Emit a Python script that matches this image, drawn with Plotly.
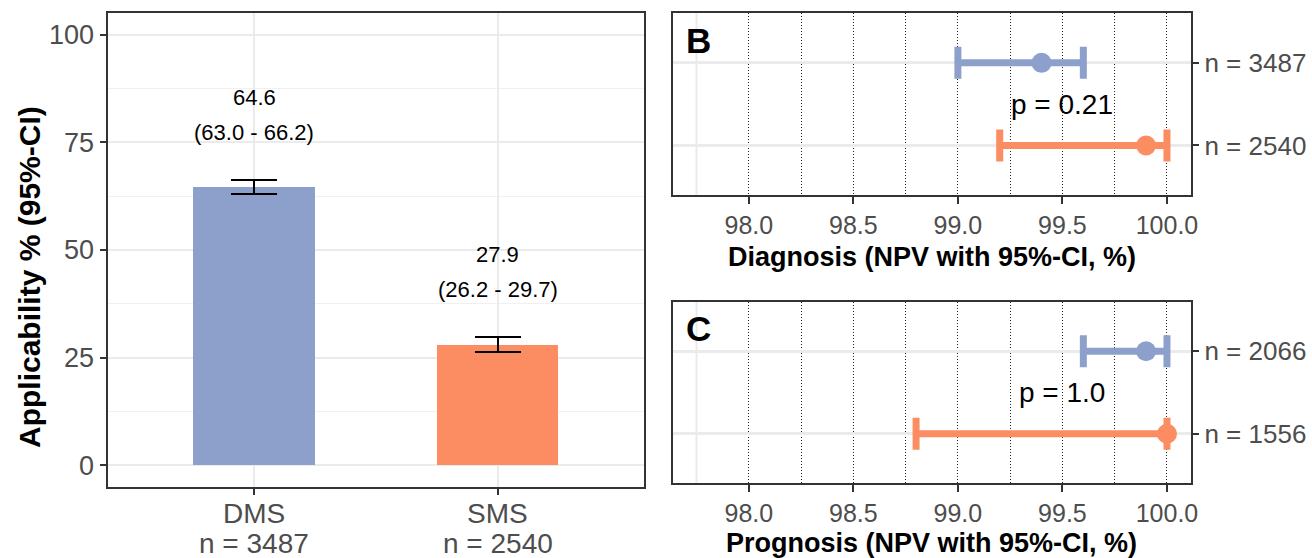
import plotly.graph_objects as go

# ---------------- data ----------------
groups = ["DMS", "SMS"]
group_n = [3487, 2540]
applic = [64.6, 27.9]
applic_lo = [63.0, 26.2]
applic_hi = [66.2, 29.7]

diag_labels = ["n = 3487", "n = 2540"]
diag_npv = [99.4, 99.9]
diag_lo = [99.0, 99.2]
diag_hi = [99.6, 100.0]
diag_p = "p = 0.21"

prog_labels = ["n = 2066", "n = 1556"]
prog_npv = [99.9, 100.0]
prog_lo = [99.6, 98.8]
prog_hi = [100.0, 100.0]
prog_p = "p = 1.0"

npv_ticks = [98.0, 98.5, 99.0, 99.5, 100.0]
npv_minor = [98.25, 98.75, 99.25, 99.75]

colors = ["#8DA0CB", "#FC8D62"]
FONT = "Liberation Sans, Arial, sans-serif"
W, H = 1312, 558


def px_x(p):
    return p / W


def px_y(p):
    return 1 - p / H


def label(**kw):
    kw.setdefault("showarrow", False)
    kw.setdefault("xanchor", "center")
    kw.setdefault("yanchor", "middle")
    fig.add_annotation(**kw)


fig = go.Figure()

# ---------------- Panel A: bars ----------------
xpos = list(range(len(groups)))
fig.add_trace(go.Bar(
    x=xpos, y=applic, width=0.5, marker=dict(color=colors, line=dict(width=0)),
    error_y=dict(type="data", symmetric=False,
                 array=[h - v for h, v in zip(applic_hi, applic)],
                 arrayminus=[v - l for v, l in zip(applic, applic_lo)],
                 color="black", thickness=2, width=23),
    xaxis="x", yaxis="y", showlegend=False, hoverinfo="skip"))

for i in xpos:
    label(x=i, y=applic_hi[i], xref="x", yref="y", yshift=83,
          text=f"{applic[i]:.1f}", font=dict(family=FONT, size=22, color="black"))
    label(x=i, y=applic_hi[i], xref="x", yref="y", yshift=48,
          text=f"({applic_lo[i]:.1f} - {applic_hi[i]:.1f})",
          font=dict(family=FONT, size=22, color="black"))
    # two-line category label
    label(x=i, y=px_y(513), xref="x", yref="paper", text=groups[i],
          font=dict(family=FONT, size=28, color="#4D4D4D"))
    label(x=i, y=px_y(543), xref="x", yref="paper", text=f"n = {group_n[i]}",
          font=dict(family=FONT, size=28, color="#4D4D4D"))

# y title of panel A
label(x=px_x(29), y=px_y(277), xref="paper", yref="paper", textangle=-90,
      text="<b>Applicability % (95%-CI)</b>", font=dict(family=FONT, size=30, color="black"))


# ---------------- Panels B and C: forest ----------------
def forest(vals, lo, hi, labels, xa, ya):
    ys = list(range(len(labels), 0, -1))
    for k in range(len(vals)):
        fig.add_trace(go.Scatter(
            x=[vals[k]], y=[ys[k]], mode="markers",
            marker=dict(color=colors[k], size=20),
            error_x=dict(type="data", symmetric=False,
                         array=[hi[k] - vals[k]], arrayminus=[vals[k] - lo[k]],
                         color=colors[k], thickness=7, width=16),
            xaxis=xa, yaxis=ya, showlegend=False, hoverinfo="skip"))
    return ys


ys_b = forest(diag_npv, diag_lo, diag_hi, diag_labels, "x2", "y2")
ys_c = forest(prog_npv, prog_lo, prog_hi, prog_labels, "x3", "y3")

xmid = 99.5
label(x=xmid, y=sum(ys_b) / 2, xref="x2", yref="y2", text=diag_p,
      font=dict(family=FONT, size=28, color="black"))
label(x=xmid, y=sum(ys_c) / 2, xref="x3", yref="y3", text=prog_p,
      font=dict(family=FONT, size=28, color="black"))

# panel letters
label(x=px_x(698), y=px_y(41), xref="paper", yref="paper", text="<b>B</b>",
      font=dict(family=FONT, size=35, color="black"))
label(x=px_x(698), y=px_y(328), xref="paper", yref="paper", text="<b>C</b>",
      font=dict(family=FONT, size=35, color="black"))

# x titles of B and C
cx = px_x((673 + 1190.5) / 2)
label(x=cx, y=px_y(257), xref="paper", yref="paper",
      text="<b>Diagnosis (NPV with 95%-CI, %)</b>", font=dict(family=FONT, size=27, color="black"))
label(x=cx, y=px_y(543), xref="paper", yref="paper",
      text="<b>Prognosis (NPV with 95%-CI, %)</b>", font=dict(family=FONT, size=27, color="black"))

# ---------------- axes ----------------
frame = dict(showline=True, mirror=True, linecolor="#333333", linewidth=1.5,
             ticks="outside", ticklen=7, tickwidth=1.5, tickcolor="#333333",
             zeroline=False, automargin=False)

fig.update_layout(
    xaxis=dict(domain=[px_x(108.3), px_x(644)], range=[-0.6, 1.6],
               tickvals=xpos, showticklabels=False,
               showgrid=True, gridcolor="#EBEBEB", gridwidth=1.5, anchor="y", **frame),
    yaxis=dict(domain=[px_y(486.7), px_y(13.3)], range=[-5, 105], tickvals=[0, 25, 50, 75, 100],
               tickfont=dict(family=FONT, size=27, color="#4D4D4D"),
               showgrid=True, gridcolor="#EBEBEB", gridwidth=1.8,
               minor=dict(tickvals=[12.5, 37.5, 62.5, 87.5], showgrid=True,
                          gridcolor="#F0F0F0", gridwidth=1.2, ticks=""),
               anchor="x", **frame),
)


def forest_axes(xname, yname, ydom, labels, ys):
    xa = dict(domain=[px_x(673), px_x(1190.5)], range=[97.6375, 100.1125],
              tickvals=npv_ticks, ticktext=[f"{t:.1f}" for t in npv_ticks],
              tickfont=dict(family=FONT, size=25, color="#4D4D4D"),
              showgrid=True, gridcolor="#222222", gridwidth=1, griddash="1px,2px",
              minor=dict(tickvals=npv_minor, showgrid=True,
                         gridcolor="#222222", gridwidth=1, griddash="1px,2px", ticks=""),
              anchor=yname.replace("axis", ""), **frame)
    ya = dict(domain=ydom, range=[0.4, 2.6], tickvals=ys, ticktext=labels, side="right",
              tickfont=dict(family=FONT, size=26, color="#4D4D4D"),
              showgrid=True, gridcolor="#EBEBEB", gridwidth=2.5,
              anchor=xname.replace("axis", ""), **frame)
    fig.update_layout(**{xname: xa, yname: ya})


forest_axes("xaxis2", "yaxis2", [px_y(195), px_y(13.3)], diag_labels, ys_b)
forest_axes("xaxis3", "yaxis3", [px_y(483.3), px_y(301.7)], prog_labels, ys_c)

# light minor grid line left of the first dotted line
for xa, ya in (("x2", "y2"), ("x3", "y3")):
    fig.add_shape(type="line", xref=xa, yref=f"{ya} domain", x0=97.75, x1=97.75, y0=0, y1=1,
                  line=dict(color="#EBEBEB", width=2), layer="below")

fig.update_layout(width=W, height=H, margin=dict(l=0, r=0, t=0, b=0, pad=0),
                  plot_bgcolor="white", paper_bgcolor="white",
                  font=dict(family=FONT), bargap=0)

fig.write_html("out.html", config={"displayModeBar": False},
               post_script="document.body.style.margin='0';document.body.style.overflow='hidden';")
